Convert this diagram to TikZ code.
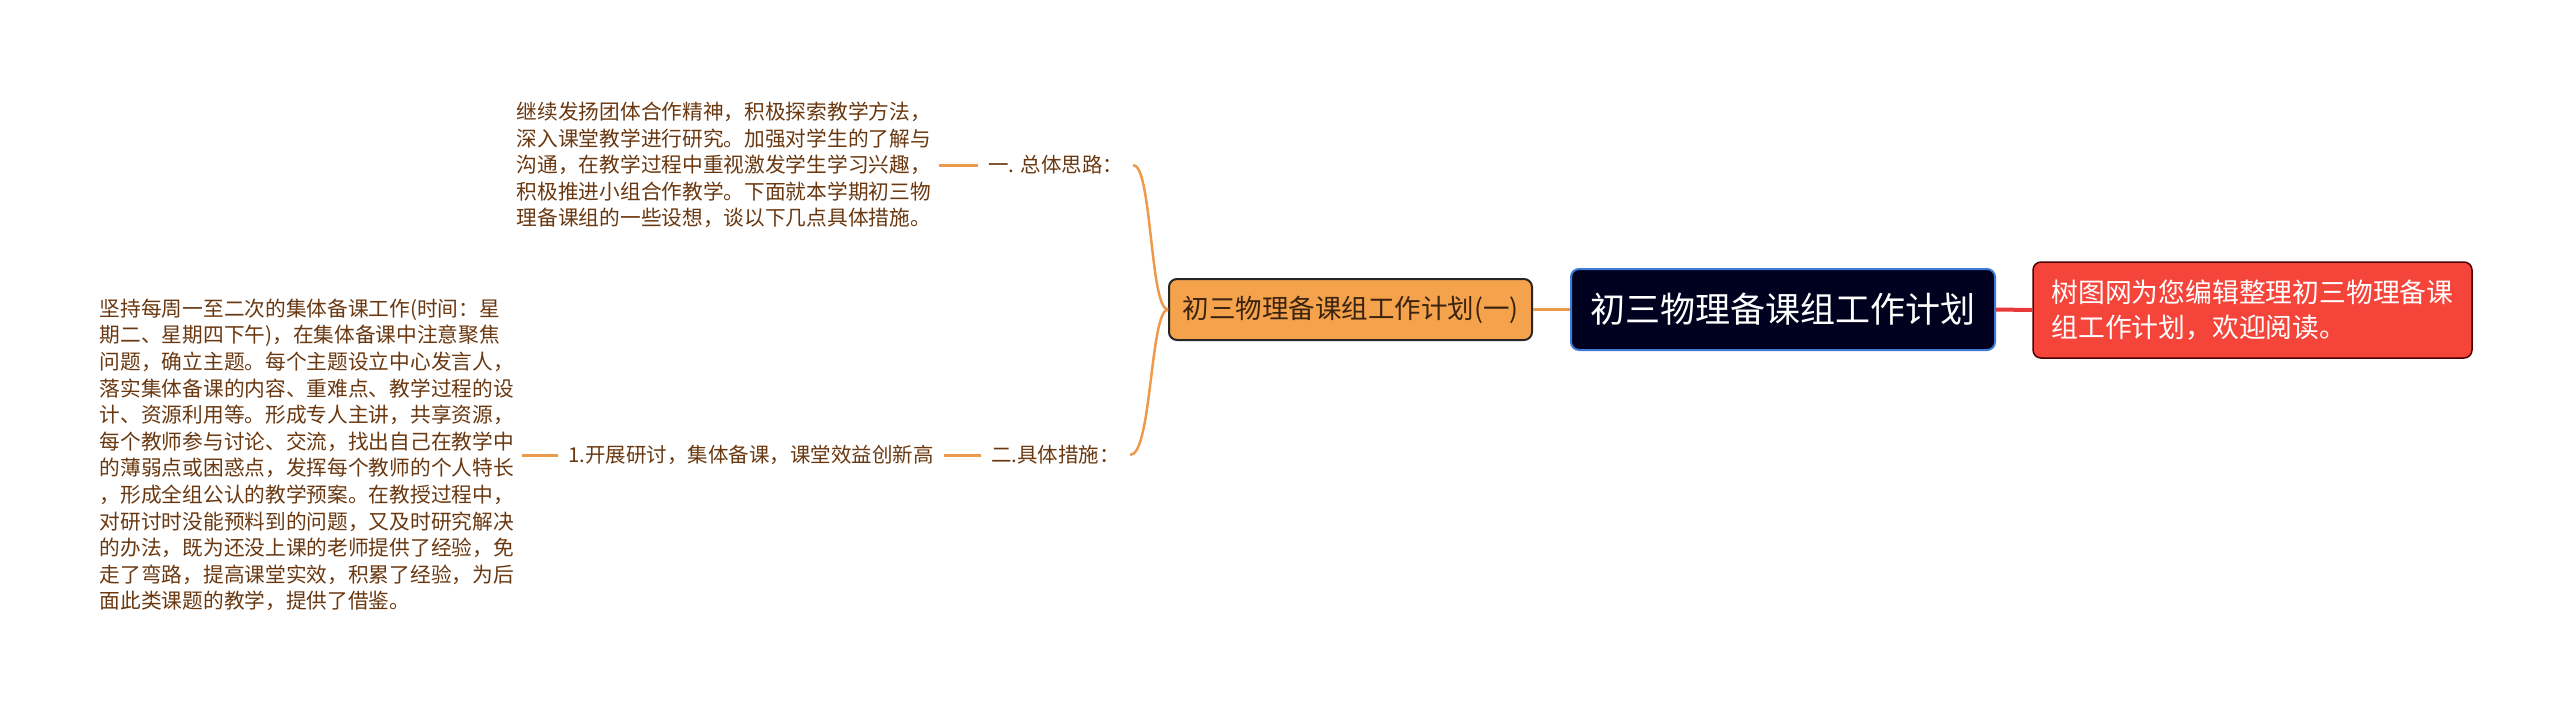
\documentclass[tikz,border=0pt]{standalone}
\usepackage{fontspec}
\setmainfont{Noto Sans CJK SC}
\definecolor{txtbrown}{HTML}{6A3810}
\definecolor{lineor}{HTML}{EE9A4D}
\definecolor{orfill}{HTML}{F5A24C}
\definecolor{navy}{HTML}{00001F}
\definecolor{navyborder}{HTML}{3E7BD9}
\definecolor{redfill}{HTML}{F5453A}
\definecolor{redline}{HTML}{E8383A}
\definecolor{orgtxt}{HTML}{3A2410}
\begin{document}
\begin{tikzpicture}[x=1pt,y=-1pt,
  txt/.style={font=\fontsize{20.7}{26.6}\selectfont, text=txtbrown, align=left, inner xsep=8pt, inner ysep=4pt},
  lbl/.style={font=\fontsize{20.5}{26.6}\selectfont, text=txtbrown, inner xsep=10pt, inner ysep=4pt},
  conn/.style={draw=lineor, line width=3pt},
  rootbox/.style={draw=navyborder, fill=navy, line width=2pt, rounded corners=8pt, text=white,
     font=\fontsize{35}{40}\selectfont, minimum width=424pt, minimum height=81pt, inner sep=0pt},
  subbox/.style={draw=black!85, fill=orfill, line width=2pt, rounded corners=8pt, text=orgtxt,
     font=\fontsize{26.5}{32}\selectfont, minimum width=363pt, minimum height=61pt, inner sep=0pt},
  notebox/.style={draw=black!70!red, fill=redfill, line width=1.5pt, rounded corners=8pt, text=white,
     font=\fontsize{26.8}{35}\selectfont, minimum width=439pt, minimum height=96pt, align=left, inner xsep=12pt}
]
\useasboundingbox (0,0) rectangle (2560,713);

\node[rootbox] (root) at (1783,309.5) {初三物理备课组工作计划};
\node[notebox] (note) at (2252.5,310) {树图网为您编辑整理初三物理备课\\组工作计划，欢迎阅读。};
\node[subbox] (sub) at (1350.5,309.5) {初三物理备课组工作计划(一)};

\draw[draw=redline, line width=4pt] (root.east) -- (note.west);
\draw[conn] (sub.east) -- (root.west);

\node[lbl, anchor=west] (l1) at (978,165) {一. 总体思路：};
\node[lbl, anchor=west] (l2) at (981,455) {二.具体措施：};

\draw[conn, line width=2.5pt] (sub.west) .. controls (1150,310) and (1152,165) .. (l1.east);
\draw[conn, line width=2.5pt] (sub.west) .. controls (1150,310) and (1152,455) .. (l2.east);

\node[txt, anchor=east] (b1) at (939,165) {继续发扬团体合作精神，积极探索教学方法，\\
深入课堂教学进行研究。加强对学生的了解与\\
沟通，在教学过程中重视激发学生学习兴趣，\\
积极推进小组合作教学。下面就本学期初三物\\
理备课组的一些设想，谈以下几点具体措施。};
\draw[conn] (l1.west) -- (b1.east);

\node[lbl, anchor=east] (m2) at (944,455) {1.开展研讨，集体备课，课堂效益创新高};
\draw[conn] (l2.west) -- (m2.east);

\node[txt, anchor=east] (b2) at (522,455) {坚持每周一至二次的集体备课工作(时间：星\\
期二、星期四下午)，在集体备课中注意聚焦\\
问题，确立主题。每个主题设立中心发言人，\\
落实集体备课的内容、重难点、教学过程的设\\
计、资源利用等。形成专人主讲，共享资源，\\
每个教师参与讨论、交流，找出自己在教学中\\
的薄弱点或困惑点，发挥每个教师的个人特长\\
，形成全组公认的教学预案。在教授过程中，\\
对研讨时没能预料到的问题，又及时研究解决\\
的办法，既为还没上课的老师提供了经验，免\\
走了弯路，提高课堂实效，积累了经验，为后\\
面此类课题的教学，提供了借鉴。};
\draw[conn] (m2.west) -- (b2.east);
\end{tikzpicture}
\end{document}
